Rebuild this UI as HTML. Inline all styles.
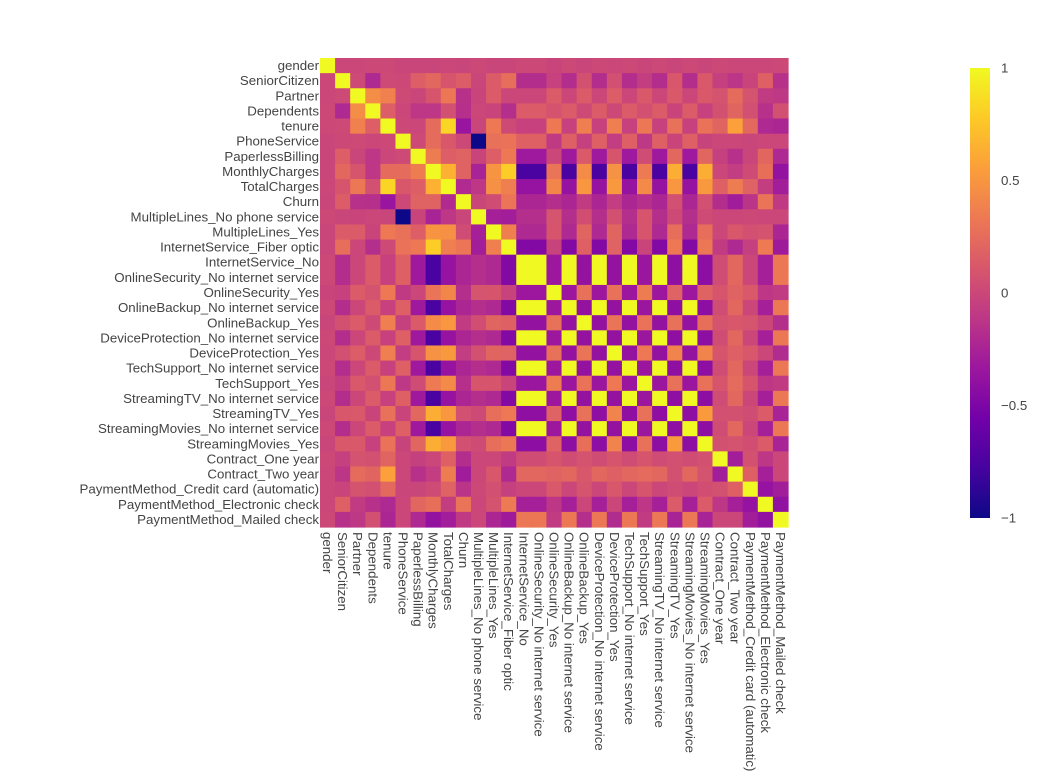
<!DOCTYPE html>
<html><head><meta charset="utf-8"><style>
body{margin:0;background:#fff;}
svg text{font-family:"Liberation Sans",Arial,sans-serif;font-size:13.3px;fill:#444;}
</style></head><body>
<svg id="chart" width="1045" height="773" xmlns="http://www.w3.org/2000/svg">
<defs><linearGradient id="plasma" x1="0" y1="1" x2="0" y2="0">
<stop offset="0" stop-color="#0d0887"/><stop offset="0.111" stop-color="#46039f"/><stop offset="0.222" stop-color="#7201a8"/><stop offset="0.333" stop-color="#9c179e"/><stop offset="0.444" stop-color="#bd3786"/><stop offset="0.556" stop-color="#d8576b"/><stop offset="0.667" stop-color="#ed7953"/><stop offset="0.778" stop-color="#fb9f3a"/><stop offset="0.889" stop-color="#fdca26"/><stop offset="1" stop-color="#f0f921"/>
</linearGradient></defs>
<g id="cells"></g>
<g id="ylabels"></g>
<g id="xlabels"></g>
<g>
<rect x="970" y="68" width="20" height="450" fill="url(#plasma)"/>
<g id="cbticks"></g>
</g>
</svg>
<script>
const labels = ["gender","SeniorCitizen","Partner","Dependents","tenure","PhoneService","PaperlessBilling","MonthlyCharges","TotalCharges","Churn","MultipleLines_No phone service","MultipleLines_Yes","InternetService_Fiber optic","InternetService_No","OnlineSecurity_No internet service","OnlineSecurity_Yes","OnlineBackup_No internet service","OnlineBackup_Yes","DeviceProtection_No internet service","DeviceProtection_Yes","TechSupport_No internet service","TechSupport_Yes","StreamingTV_No internet service","StreamingTV_Yes","StreamingMovies_No internet service","StreamingMovies_Yes","Contract_One year","Contract_Two year","PaymentMethod_Credit card (automatic)","PaymentMethod_Electronic check","PaymentMethod_Mailed check"];
const noIntBase = [0.01,-0.18,0.00,0.14,-0.04,0.17,-0.32,-0.76,-0.37,-0.23,-0.17,-0.21,-0.47];
const lower = [
[],
[0.00],
[0.00,0.02],
[0.01,-0.21,0.45],
[0.01,0.02,0.38,0.16],
[-0.01,0.01,0.02,0.00,0.01],
[-0.01,0.16,-0.01,-0.11,0.00,0.02],
[-0.01,0.22,0.10,-0.11,0.25,0.25,0.35],
[0.00,0.10,0.32,0.06,0.83,0.11,0.16,0.65],
[-0.01,0.15,-0.15,-0.16,-0.35,0.01,0.19,0.19,-0.20],
[0.01,-0.01,-0.02,0.00,-0.01,-1.00,-0.02,-0.25,-0.11,-0.01],
[-0.01,0.14,0.14,-0.02,0.33,0.28,0.16,0.49,0.47,0.04,-0.28],
[-0.01,0.26,0.00,-0.17,0.02,0.29,0.33,0.79,0.36,0.31,-0.29,0.37],
noIntBase,
noIntBase.concat([1]),
[-0.02,-0.04,0.14,0.08,0.33,-0.09,0.00,0.30,0.41,-0.17,0.09,0.10,-0.03,-0.33,-0.33],
noIntBase.concat([1,1,-0.33]),
[-0.01,0.07,0.14,0.02,0.36,-0.05,0.13,0.44,0.51,-0.08,0.05,0.20,0.17,-0.38,-0.38,0.28,-0.38],
noIntBase.concat([1,1,-0.33,1,-0.38]),
[0.00,0.06,0.15,0.01,0.36,-0.07,0.10,0.48,0.52,-0.07,0.07,0.20,0.18,-0.38,-0.38,0.28,-0.38,0.30,-0.38],
noIntBase.concat([1,1,-0.33,1,-0.38,1,-0.38]),
[-0.01,-0.06,0.12,0.06,0.32,-0.10,0.04,0.34,0.43,-0.16,0.10,0.10,-0.02,-0.34,-0.34,0.35,-0.34,0.29,-0.34,0.33,-0.34],
noIntBase.concat([1,1,-0.33,1,-0.38,1,-0.38,1,-0.34]),
[-0.01,0.11,0.12,-0.02,0.28,-0.02,0.22,0.63,0.51,0.06,0.02,0.26,0.33,-0.41,-0.41,0.18,-0.41,0.28,-0.41,0.39,-0.41,0.28,-0.41],
noIntBase.concat([1,1,-0.33,1,-0.38,1,-0.38,1,-0.34,1,-0.41]),
[-0.01,0.12,0.12,-0.04,0.29,-0.03,0.21,0.63,0.52,0.06,0.03,0.26,0.32,-0.42,-0.42,0.19,-0.42,0.27,-0.42,0.40,-0.42,0.28,-0.42,0.53,-0.42],
[0.01,-0.05,0.08,0.07,0.20,0.00,-0.05,0.00,0.17,-0.18,0.00,0.00,-0.08,0.04,0.04,0.10,0.04,0.08,0.04,0.10,0.04,0.10,0.04,0.06,0.04,0.07],
[0.00,-0.12,0.25,0.20,0.56,0.00,-0.15,-0.07,0.35,-0.30,0.00,0.11,-0.21,0.22,0.22,0.19,0.22,0.11,0.22,0.17,0.22,0.24,0.22,0.07,0.22,0.08,-0.29],
[0.00,-0.02,0.08,0.06,0.23,-0.01,-0.01,0.03,0.18,-0.13,0.01,0.06,-0.05,0.00,0.00,0.12,0.00,0.09,0.00,0.11,0.00,0.10,0.00,0.04,0.00,0.05,0.07,0.17],
[0.00,0.17,-0.08,-0.15,-0.21,0.00,0.21,0.27,-0.06,0.30,0.00,0.08,0.34,-0.28,-0.28,-0.11,-0.28,0.00,-0.28,0.00,-0.28,-0.11,-0.28,0.14,-0.28,0.14,-0.11,-0.28,-0.37],
[0.01,-0.15,-0.10,0.06,-0.23,0.00,-0.21,-0.38,-0.29,-0.09,0.00,-0.23,-0.31,0.32,0.32,-0.08,0.32,-0.17,0.32,-0.19,0.32,-0.08,0.32,-0.25,0.32,-0.25,0.00,0.00,-0.29,-0.39]
];
const cbTickVals = [1,0.5,0,-0.5,-1];
const cbTickLabels = ["1","0.5","0","−0.5","−1"];

const NS="http://www.w3.org/2000/svg";
const n=labels.length, L=320, R=788, T=58, B=527;
const cw=(R-L)/n, ch=(B-T)/n;
const xPos=j=>L+j*cw, yPos=i=>T+i*ch;
const cbY=v=>68+(1-v)/2*450;
const stops=["#0d0887","#46039f","#7201a8","#9c179e","#bd3786","#d8576b","#ed7953","#fb9f3a","#fdca26","#f0f921"].map(h=>[parseInt(h.slice(1,3),16),parseInt(h.slice(3,5),16),parseInt(h.slice(5,7),16)]);
function color(v){let t=(v+1)/2*9;t=Math.max(0,Math.min(9,t));const k=Math.min(8,Math.floor(t)),f=t-k;const a=stops[k],b=stops[k+1];return `rgb(${a.map((c,i)=>Math.round(c+(b[i]-c)*f)).join(',')})`;}
function val(i,j){if(i===j)return 1;return i>j?lower[i][j]:lower[j][i];}
const cells=document.getElementById('cells');
for(let i=0;i<n;i++)for(let j=0;j<n;j++){
const r=document.createElementNS(NS,'rect');


r.setAttribute('x',xPos(j));r.setAttribute('y',yPos(i));r.setAttribute('width',cw+0.6);r.setAttribute('height',ch+0.6);
r.setAttribute('fill',color(val(i,j)));cells.appendChild(r);}
const yl=document.getElementById('ylabels'),xl=document.getElementById('xlabels');
labels.forEach((lab,i)=>{
const t=document.createElementNS(NS,'text');


t.setAttribute('x',L-1);t.setAttribute('y',yPos(i)+ch/2+4.5);t.setAttribute('text-anchor','end');t.textContent=lab;yl.appendChild(t);
const u=document.createElementNS(NS,'text');


const cx=xPos(i)+cw/2-4.5;
u.setAttribute('transform',`translate(${cx},${B+5}) rotate(90)`);u.textContent=lab;xl.appendChild(u);});
const cb=document.getElementById('cbticks');
cbTickVals.forEach((v,k)=>{
const t=document.createElementNS(NS,'text');


t.setAttribute('x',1001);t.setAttribute('y',cbY(v)+4.5);t.textContent=cbTickLabels[k];cb.appendChild(t);});
</script>
</body></html>
